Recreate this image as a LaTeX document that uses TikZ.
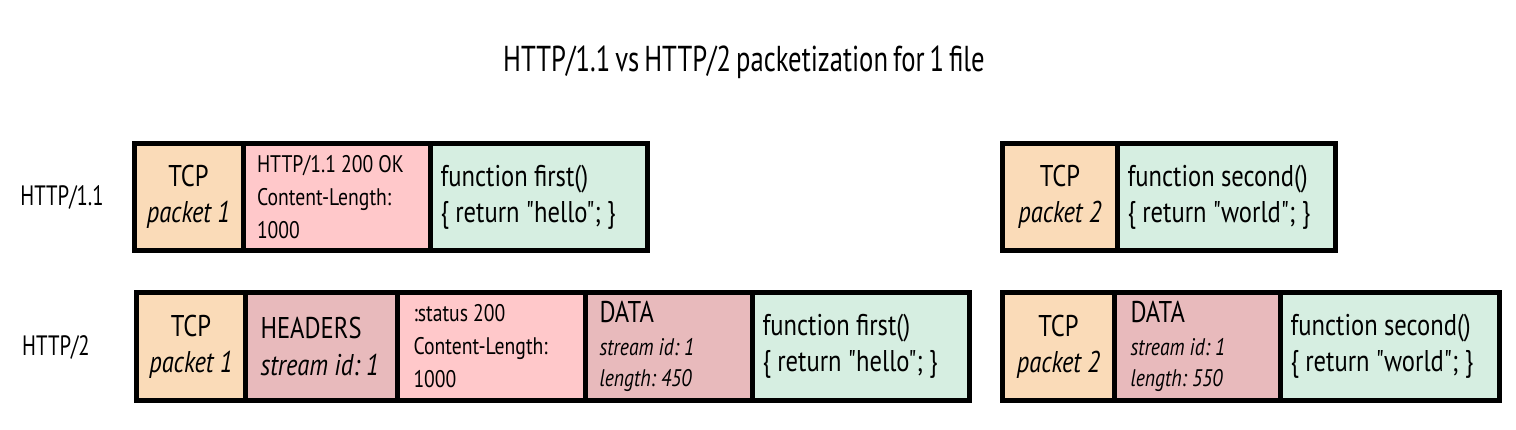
\documentclass[tikz,border=0pt]{standalone}
\usepackage{fontspec}
\setmainfont{PT Sans}[FakeStretch=0.82,Ligatures=TeXOff]
\newfontfamily\narrowf{PT Sans}[FakeStretch=0.74,WordSpace=0.7,Ligatures=TeXOff]
\definecolor{peach}{HTML}{FADBB8}
\definecolor{pinkc}{HTML}{FFC8CA}
\definecolor{dusty}{HTML}{E8BABC}
\definecolor{greenc}{HTML}{D6EEE1}
\newcommand{\bigf}{\fontsize{30}{36}\selectfont}
\newcommand{\smf}{\fontsize{24}{33}\selectfont}
\newcommand{\pcell}[8]{%
  \pgfmathsetmacro{\cw}{#3-#2}%
  \pgfmathsetmacro{\ch}{#5-#4}%
  \pgfmathsetmacro{\tw}{#3-#2-2*#7}%
  \pgfmathsetmacro{\cx}{(#2+#3)/2}%
  \pgfmathsetmacro{\cy}{(#4+#5)/2}%
  \node[cellbox,#6,minimum width=\cw pt,minimum height=\ch pt,text width=\tw pt,inner xsep=#7 pt] (#1) at (\cx,\cy) {\spaceskip=0.21em\relax\xspaceskip=0.21em\relax #8};%
}
\tikzset{
  cellbox/.style={draw=black, line width=5pt, rectangle, inner ysep=0pt, outer sep=0pt, text=black},
  lbl/.style={font=\narrowf\fontsize{28}{34}\selectfont, inner sep=0pt}
}
\begin{document}
\begin{tikzpicture}[x=1pt,y=-1pt]
\useasboundingbox (0,0) rectangle (1516,430);
\fill[white] (0,0) rectangle (1516,430);
\node[font=\narrowf\fontsize{36}{40}\selectfont, inner sep=0pt] (title) at (744,62) {HTTP/1.1 vs HTTP/2 packetization for 1 file};
\node[lbl] (l1) at (62,197) {HTTP/1.1};
\node[lbl] (l2) at (56,347) {HTTP/2};
% row 1 left
\pcell{t1}{134}{243}{143.5}{250.5}{fill=peach,align=center,font=\bigf}{6}{TCP\\\textit{packet 1}}
\pcell{h1}{243}{430.5}{143.5}{250.5}{fill=pinkc,align=left,font=\smf}{14}{HTTP/1.1 200 OK\\Content-Length:\\1000}
\pcell{b1}{430.5}{647.5}{143.5}{250.5}{fill=greenc,align=left,font=\bigf}{10}{function first()\\\{ return "hello"; \}}
% row 1 right
\pcell{t2}{1002.5}{1117.5}{143.5}{250.5}{fill=peach,align=center,font=\bigf}{6}{TCP\\\textit{packet 2}}
\pcell{b2}{1117.5}{1335.5}{143.5}{250.5}{fill=greenc,align=left,font=\bigf}{10}{function second()\\\{ return "world"; \}}
% row 2 left
\pcell{t3}{136.5}{245.5}{292.5}{400.5}{fill=peach,align=center,font=\bigf}{6}{TCP\\\textit{packet 1}}
\pcell{hd}{245.5}{397.5}{292.5}{400.5}{fill=dusty,align=left,font=\bigf}{15}{HEADERS\\\mbox{\textit{stream id: 1}}}
\pcell{h2}{397.5}{585.5}{292.5}{400.5}{fill=pinkc,align=left,font=\smf}{16}{:status 200\\Content-Length:\\1000}
\pcell{d1}{585.5}{752.5}{292.5}{400.5}{fill=dusty,align=left,font=\fontsize{24}{31}\selectfont}{14}{{\bigf DATA}\\[2pt]\textit{stream id: 1}\\\textit{length: 450}}
\pcell{b3}{752.5}{969.5}{292.5}{400.5}{fill=greenc,align=left,font=\bigf}{10}{function first()\\\{ return "hello"; \}}
% row 2 right
\pcell{t4}{1002.5}{1114.5}{292.5}{400.5}{fill=peach,align=center,font=\bigf}{6}{TCP\\\textit{packet 2}}
\pcell{d2}{1114.5}{1280.5}{292.5}{400.5}{fill=dusty,align=left,font=\fontsize{24}{31}\selectfont}{16}{{\bigf DATA}\\[2pt]\textit{stream id: 1}\\\textit{length: 550}}
\pcell{b4}{1280.5}{1499}{292.5}{400.5}{fill=greenc,align=left,font=\bigf}{10}{function second()\\\{ return "world"; \}}
\end{tikzpicture}
\end{document}
